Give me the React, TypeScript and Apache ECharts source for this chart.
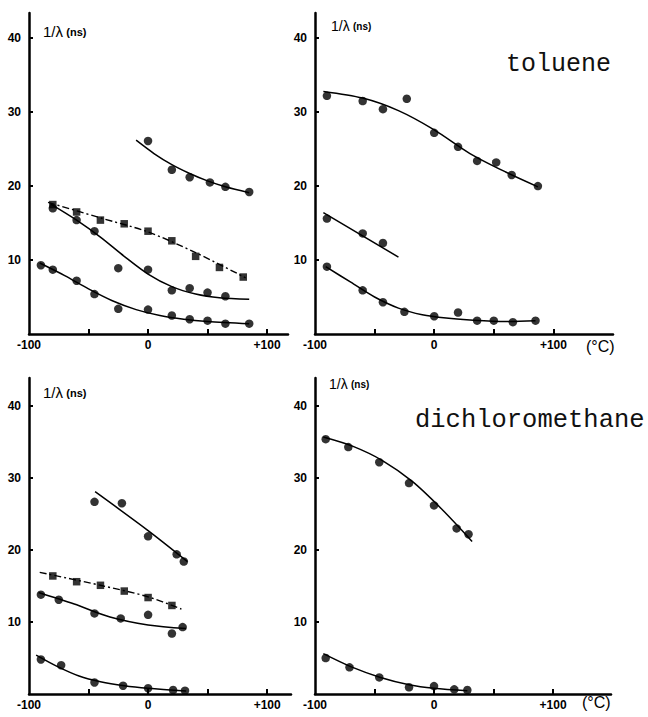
import React, { useEffect, useRef } from "react";
import * as echarts from "echarts";

// ---------- Tick labels ----------
const xTickValues = [-50, 0, 50, 100];
const xLabelValues = [-100, 0, 100];
const yTickValues = [10, 20, 30, 40];

// ---------- Toluene, left panel ----------
const tolL_A_x = [0, 20, 35, 52, 65, 85];
const tolL_A_y = [26.1, 22.2, 21.2, 20.5, 19.9, 19.2];
const tolL_A_fit = [[-10, 26.2], [5, 24.4], [20, 22.9], [35, 21.7], [50, 20.7], [65, 19.9], [85, 19.1]];

const tolL_B_x = [-80, -60, -40, -20, 0, 20, 40, 60, 80];
const tolL_B_y = [17.5, 16.5, 15.4, 14.9, 13.9, 12.6, 10.5, 9.0, 7.7];
const tolL_B_fit = [[-84, 17.8], [-40, 15.7], [0, 13.8], [40, 11.0], [82, 7.6]];

const tolL_C_x = [-80, -60, -45, -25, 0, 20, 35, 50, 65];
const tolL_C_y = [17.0, 15.4, 13.9, 8.9, 8.7, 5.9, 6.2, 5.6, 5.1];
const tolL_C_fit = [[-82, 17.6], [-60, 15.4], [-40, 13.1], [-20, 10.5], [0, 8.1], [20, 6.4], [40, 5.4], [60, 4.9], [85, 4.7]];

const tolL_D_x = [-90, -80, -60, -45, -25, 0, 20, 35, 50, 65, 85];
const tolL_D_y = [9.3, 8.7, 7.2, 5.4, 3.4, 3.3, 2.5, 2.0, 1.8, 1.4, 1.4];
const tolL_D_fit = [[-91, 9.6], [-70, 7.9], [-50, 6.1], [-30, 4.5], [-10, 3.3], [10, 2.5], [30, 2.0], [50, 1.7], [85, 1.4]];

// ---------- Toluene, right panel ----------
const tolR_E_x = [-90, -60, -43, -23, 0, 20, 36, 52, 65, 87];
const tolR_E_y = [32.2, 31.5, 30.4, 31.8, 27.2, 25.3, 23.4, 23.2, 21.5, 20.0];
const tolR_E_fit = [[-93, 32.8], [-60, 31.9], [-30, 30.2], [0, 27.6], [30, 24.4], [60, 21.9], [87, 19.9]];

const tolR_F_x = [-90, -60, -43];
const tolR_F_y = [15.6, 13.6, 12.3];
const tolR_F_fit = [[-93, 16.4], [-30, 10.4]];

const tolR_G_x = [-90, -60, -43, -25, 0, 20, 36, 50, 66, 85];
const tolR_G_y = [9.1, 5.9, 4.3, 3.0, 2.4, 2.9, 1.8, 1.8, 1.6, 1.8];
const tolR_G_fit = [[-91, 9.1], [-70, 7.0], [-50, 5.0], [-30, 3.5], [-10, 2.6], [10, 2.15], [30, 1.9], [60, 1.7], [85, 1.8]];

// ---------- Dichloromethane, left panel ----------
const dcmL_H_x = [-45, -22, 0, 24, 30];
const dcmL_H_y = [26.7, 26.5, 21.9, 19.4, 18.4];
const dcmL_H_fit = [[-44.5, 28.1], [0, 22.7], [33, 18.4]];

const dcmL_I_x = [-80, -60, -40, -20, 0, 20];
const dcmL_I_y = [16.4, 15.6, 15.1, 14.3, 13.4, 12.3];
const dcmL_I_fit = [[-91, 16.9], [-40, 15.1], [0, 13.5], [28, 11.8]];

const dcmL_J_x = [-90, -75, -45, -23, 0, 20, 29];
const dcmL_J_y = [13.8, 13.1, 11.2, 10.5, 11.0, 8.4, 9.3];
const dcmL_J_fit = [[-92, 14.1], [-62, 12.5], [-32, 10.7], [0, 9.6], [32, 9.1]];

const dcmL_K_x = [-90, -73, -45, -21, 0, 21, 31];
const dcmL_K_y = [4.8, 4.0, 1.6, 1.15, 0.8, 0.55, 0.46];
const dcmL_K_fit = [[-94, 5.4], [-76, 3.8], [-58, 2.5], [-40, 1.7], [-20, 1.15], [0, 0.8], [32, 0.42]];

// ---------- Dichloromethane, right panel ----------
const dcmR_L_x = [-91, -72, -46, -21, 0, 19, 29];
const dcmR_L_y = [35.4, 34.3, 32.2, 29.3, 26.2, 23.0, 22.2];
const dcmR_L_fit = [[-93, 35.7], [-68, 34.4], [-43, 32.4], [-18, 29.5], [7, 25.6], [32, 21.2]];

const dcmR_M_x = [-91, -71, -46, -21, 0, 17, 28];
const dcmR_M_y = [5.0, 3.7, 2.3, 0.93, 1.1, 0.65, 0.55];
const dcmR_M_fit = [[-93, 5.6], [-70, 3.8], [-45, 2.3], [-20, 1.25], [0, 0.8], [28, 0.45]];

const FONT = "'Liberation Sans', Arial, sans-serif";

function pts(xs: number[], ys: number[]) {
  return xs.map((x, i) => [x, ys[i]]);
}

function scatter(g: number, xs: number[], ys: number[], symbol = "circle", size = 8.5) {
  return {
    type: "scatter",
    xAxisIndex: g,
    yAxisIndex: g,
    data: pts(xs, ys),
    symbol,
    symbolSize: size,
    itemStyle: { color: "#000" },
    z: 3,
  };
}

function fit(g: number, data: number[][], dashed = false) {
  return {
    type: "line",
    xAxisIndex: g,
    yAxisIndex: g,
    data,
    smooth: 0.3,
    showSymbol: false,
    symbol: "none",
    lineStyle: dashed
      ? { color: "#000", width: 1.4, type: [7, 3, 2, 3] }
      : { color: "#000", width: 1.5 },
    z: 2,
  };
}

function xAxis(g: number, max: number) {
  return {
    type: "value",
    gridIndex: g,
    min: -100,
    max,
    axisLine: { show: true, onZero: false, lineStyle: { color: "#000", width: 2.5 } },
    axisTick: {
      show: true,
      inside: true,
      length: 5,
      customValues: xTickValues,
      lineStyle: { color: "#000", width: 2 },
    },
    axisLabel: {
      customValues: xLabelValues,
      formatter: (v: number) => (v === 100 ? "+100" : String(v)),
      color: "#000",
      fontSize: 12,
      fontWeight: "bold",
      fontFamily: FONT,
      margin: 5,
    },
    splitLine: { show: false },
  };
}

function yAxis(g: number, max: number) {
  return {
    type: "value",
    gridIndex: g,
    min: 0,
    max,
    axisLine: { show: true, onZero: false, lineStyle: { color: "#000", width: 2.5 } },
    axisTick: {
      show: true,
      inside: true,
      length: 4,
      customValues: yTickValues,
      lineStyle: { color: "#000", width: 2 },
    },
    axisLabel: {
      customValues: yTickValues,
      color: "#000",
      fontSize: 12,
      fontWeight: "bold",
      fontFamily: FONT,
      margin: 8,
    },
    splitLine: { show: false },
  };
}

function yTitle(x: number, y: number, big: number, small: number) {
  return {
    type: "text",
    left: x,
    top: y,
    style: {
      text: "{a|1/λ} {b|(ns)}",
      rich: {
        a: { fontSize: big, fontFamily: FONT, fill: "#000" },
        b: { fontSize: small, fontFamily: FONT, fontWeight: "bold", fill: "#000" },
      },
    },
  };
}

export default function App() {
  const ref = useRef<HTMLDivElement>(null);
  useEffect(() => {
    if (!ref.current) return;
    const chart = echarts.init(ref.current, null, { renderer: "svg" });
    chart.setOption({
      animation: false,
      backgroundColor: "#fff",
      grid: [
        { left: 29, top: 13, width: 259, height: 321 },
        { left: 315, top: 13, width: 298, height: 321 },
        { left: 29, top: 378, width: 262, height: 316 },
        { left: 315, top: 378, width: 296, height: 316 },
      ],
      xAxis: [xAxis(0, 117.6), xAxis(1, 150), xAxis(2, 120), xAxis(3, 148.7)],
      yAxis: [yAxis(0, 43.4), yAxis(1, 43.4), yAxis(2, 43.9), yAxis(3, 43.9)],
      series: [
        fit(0, tolL_A_fit), scatter(0, tolL_A_x, tolL_A_y),
        fit(0, tolL_B_fit, true), scatter(0, tolL_B_x, tolL_B_y, "rect", 7.5),
        fit(0, tolL_C_fit), scatter(0, tolL_C_x, tolL_C_y),
        fit(0, tolL_D_fit), scatter(0, tolL_D_x, tolL_D_y),

        fit(1, tolR_E_fit), scatter(1, tolR_E_x, tolR_E_y),
        fit(1, tolR_F_fit), scatter(1, tolR_F_x, tolR_F_y),
        fit(1, tolR_G_fit), scatter(1, tolR_G_x, tolR_G_y),

        fit(2, dcmL_H_fit), scatter(2, dcmL_H_x, dcmL_H_y),
        fit(2, dcmL_I_fit, true), scatter(2, dcmL_I_x, dcmL_I_y, "rect", 7.5),
        fit(2, dcmL_J_fit), scatter(2, dcmL_J_x, dcmL_J_y),
        fit(2, dcmL_K_fit), scatter(2, dcmL_K_x, dcmL_K_y),

        fit(3, dcmR_L_fit), scatter(3, dcmR_L_x, dcmR_L_y),
        fit(3, dcmR_M_fit), scatter(3, dcmR_M_x, dcmR_M_y),
      ],
      graphic: [
        yTitle(43, 24, 15, 11),
        yTitle(331, 19, 14, 10),
        yTitle(43, 385, 15, 11),
        yTitle(329, 377, 14, 10),
        {
          type: "text",
          left: 506,
          top: 52,
          style: { text: "toluene", fontSize: 25, fontFamily: "'Liberation Mono', monospace", fill: "#111" },
        },
        {
          type: "text",
          left: 415,
          top: 407,
          style: { text: "dichloromethane", fontSize: 25.5, fontFamily: "'Liberation Mono', monospace", fill: "#111" },
        },
        {
          type: "text",
          left: 586,
          top: 338,
          style: { text: "(°C)", fontSize: 16, fontFamily: FONT, fill: "#000" },
        },
        {
          type: "text",
          left: 582,
          top: 694,
          style: { text: "(°C)", fontSize: 16, fontFamily: FONT, fill: "#000" },
        },
      ],
    });
    return () => chart.dispose();
  }, []);
  return (
    <div
      ref={ref}
      style={{ position: "absolute", left: 0, top: 0, width: 648, height: 717 }}
    />
  );
}
